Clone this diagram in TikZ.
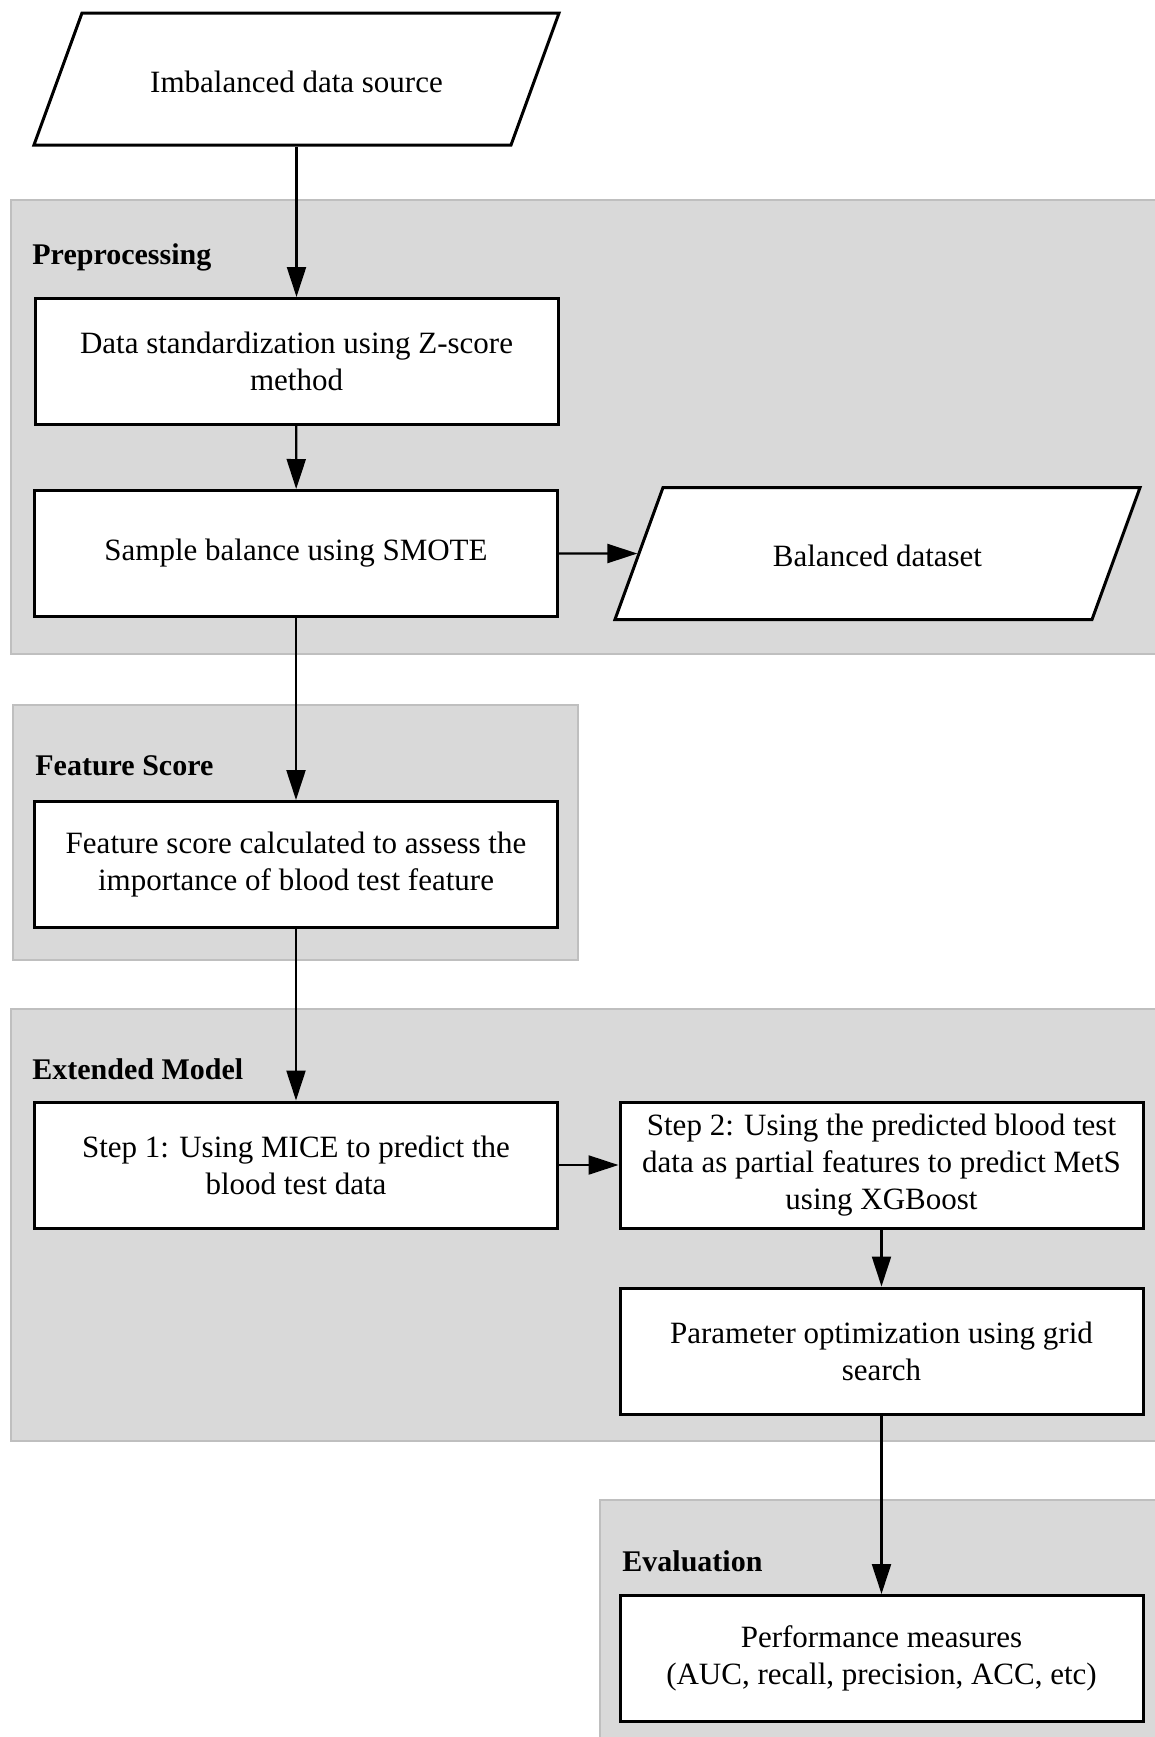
\documentclass[tikz,border=0pt]{standalone}
\usepackage{fontspec}
\setmainfont{Liberation Serif}
\usetikzlibrary{shapes.geometric,arrows.meta,backgrounds}

\begin{document}
\begin{tikzpicture}[x=0.5pt,y=-0.5pt,>={Triangle[length=15pt,width=9.5pt]},
  box/.style={rectangle,draw,line width=1.5pt,fill=white,minimum width=261.5pt,minimum height=63pt,
    align=center,inner sep=2pt,font=\fontsize{15.5}{18.5}\selectfont},
  io/.style={trapezium,trapezium left angle=70,trapezium right angle=110,
    draw,line width=1.5pt,fill=white,text width=206.5pt,align=flush center,inner xsep=4pt,inner ysep=26pt,
    text height=13.5pt,text depth=0.5pt,font=\fontsize{15.5}{18.5}\selectfont},
  panel/.style={draw=black!25,line width=1.3pt,fill=black!15},
  lab/.style={anchor=west,inner sep=0pt,font=\fontsize{15}{18}\selectfont\bfseries},
  a/.style={->,line width=1.1pt}]
  \useasboundingbox (0,0) rectangle (1155,1737);
  \clip (0,0) rectangle (1155,1737);
  % nodes
  \node[io] (src) at (296.5,79) {Imbalanced data source};
  \node[box] (std) at (296.5,361.5) {Data standardization using Z-score\\method};
  \node[box] (smote) at (296,553.5) {Sample balance using SMOTE};
  \node[io] (bal) at (877.5,553.5) {Balanced dataset};
  \node[box] (feat) at (296,864.5) {Feature score calculated to assess the\\importance of blood test feature};
  \node[box] (step1) at (296,1165) {Step 1: Using MICE to predict the\\blood test data};
  \node[box] (step2) at (881.5,1165) {Step 2: Using the predicted blood test\\data as partial features to predict MetS\\using XGBoost};
  \node[box] (param) at (881.5,1351) {Parameter optimization using grid\\search};
  \node[box] (perf) at (881.5,1658.5) {Performance measures\\(AUC, recall, precision, ACC, etc)};
  % stages
  \begin{scope}[on background layer]
    \path[panel] (11,200) rectangle (1165,654);
    \path[panel] (13,705) rectangle (578,960);
    \path[panel] (11,1009) rectangle (1165,1441);
    \path[panel] (600,1500) rectangle (1165,1750);
  \end{scope}
  \node[lab] (lpre) at (32,257) {Preprocessing};
  \node[lab] (lfeat) at (35,766) {Feature Score};
  \node[lab] (lext) at (32,1069) {Extended Model};
  \node[lab] (leval) at (622,1561) {Evaluation};
  % arrows
  \draw[a] (src.south -| std.north) -- (std.north);
  \draw[a] (std) -- (smote);
  \draw[a] (smote) -- (bal);
  \draw[a] (smote) -- (feat);
  \draw[a] (feat) -- (step1);
  \draw[a] (step1) -- (step2);
  \draw[a] (step2) -- (param);
  \draw[a] (param) -- (perf);
\end{tikzpicture}
\end{document}
